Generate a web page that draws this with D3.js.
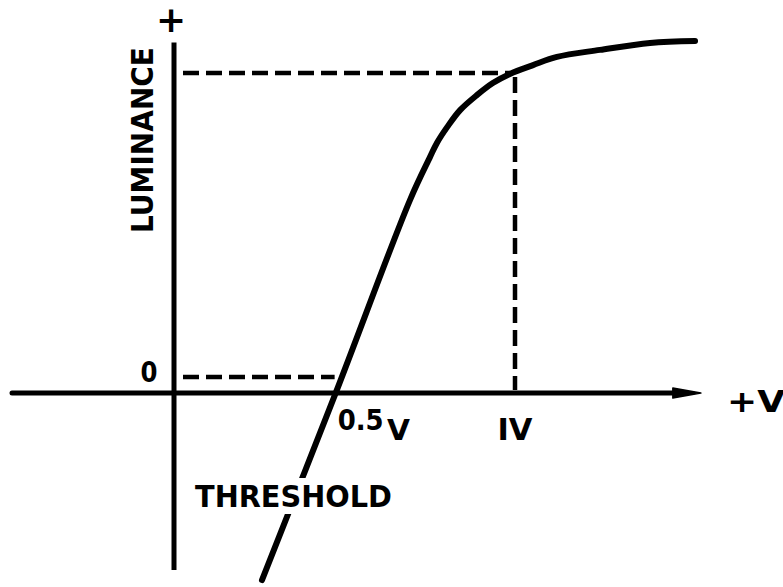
<!DOCTYPE html>
<html><head><meta charset="utf-8">
<script src="https://cdn.jsdelivr.net/npm/d3@7"></script>
<style>body{margin:0;background:#fff}svg{display:block}</style></head>
<body>
<script>
// Data (volts vs. relative luminance; 1.0 = luminance at 1 V)
const curveVolts = [0.258, 0.474, 0.692, 0.751, 0.771, 0.801, 0.839, 0.889, 0.935, 0.985, 1.053, 1.123, 1.249, 1.396, 1.528];
const curveLum   = [-0.668, -0.053, 0.582, 0.724, 0.770, 0.822, 0.878, 0.928, 0.967, 0.997, 1.026, 1.053, 1.076, 1.099, 1.105];
const thresholdVolts = 0.474;
const refVolts = 1.0;
const refLum = 1.0;
const zeroLum = 0.0;
const axisLum = -0.053;
const xAxisExtent = [-0.475, 1.545];
const yAxisExtent = [-0.635, 1.10];
const tickLabels = ["0.5", "V", "IV", "0", "+V", "+", "LUMINANCE", "THRESHOLD"];

const W = 783, H = 587;
const svg = d3.select("body").append("svg").attr("width", W).attr("height", H);
const x = d3.scaleLinear().domain([0, 1]).range([174, 515]);
const y = d3.scaleLinear().domain([0, 1]).range([377, 73]);
const font = "'DejaVu Sans', sans-serif";
const ink = "#000";

// Axes
svg.append("line").attr("x1", x(xAxisExtent[0])).attr("x2", x(xAxisExtent[1]) - 20)
  .attr("y1", y(axisLum)).attr("y2", y(axisLum)).attr("stroke", ink).attr("stroke-width", 5).attr("stroke-linecap", "round");
svg.append("path")
  .attr("d", `M${x(xAxisExtent[1]) - 28},${y(axisLum) - 5} L${x(xAxisExtent[1])},${y(axisLum)} L${x(xAxisExtent[1]) - 28},${y(axisLum) + 5} Z`)
  .attr("fill", ink).attr("stroke", ink).attr("stroke-width", 1.5).attr("stroke-linejoin", "round");
svg.append("line").attr("x1", x(0)).attr("x2", x(0))
  .attr("y1", y(yAxisExtent[1])).attr("y2", y(yAxisExtent[0])).attr("stroke", ink).attr("stroke-width", 5);

// Dashed guide lines
const dash = { "stroke": ink, "stroke-width": 4.5, "stroke-dasharray": "16,7" };
function dashed(x1, y1, x2, y2) {
  const l = svg.append("line").attr("x1", x1).attr("y1", y1).attr("x2", x2).attr("y2", y2);
  for (const k in dash) l.attr(k, dash[k]);
}
dashed(x(0) + 9, y(zeroLum), x(thresholdVolts) - 1, y(zeroLum));
dashed(x(0) + 9, y(refLum), x(refVolts) - 5, y(refLum));
dashed(x(refVolts), y(refLum) + 4, x(refVolts), y(axisLum) - 3);

// Curve
const pts = curveVolts.map((v, i) => [x(v), y(curveLum[i])]);
svg.append("path").attr("d", d3.line().curve(d3.curveCatmullRom.alpha(0.5))(pts))
  .attr("fill", "none").attr("stroke", ink).attr("stroke-width", 6).attr("stroke-linecap", "round");

// Text
function txt(s, px, py, size, opts = {}) {
  const t = svg.append("text").attr("x", px).attr("y", py).text(s)
    .attr("font-family", font).attr("font-weight", "bold").attr("font-size", size).attr("fill", ink)
    .attr("text-anchor", opts.anchor || "start");
  if (opts.len) t.attr("textLength", opts.len).attr("lengthAdjust", "spacingAndGlyphs");
  if (opts.rot) t.attr("transform", `rotate(-90,${px},${py})`);
  return t;
}
// THRESHOLD with white background (breaks the curve)
svg.append("rect").attr("x", 192).attr("y", 478).attr("width", 202).attr("height", 36).attr("fill", "#fff");
txt(tickLabels[7], 195, 507, 31, { len: 197 });
txt(tickLabels[6], 153, 140, 30, { anchor: "middle", len: 186, rot: true });
txt(tickLabels[3], 149, 382, 28, { anchor: "middle", len: 17 });
txt(tickLabels[0], x(thresholdVolts) + 2, 430, 28, { len: 46 });
txt(tickLabels[1], 387, 440, 29, { len: 23 });
txt(tickLabels[2], x(refVolts), 440, 31, { anchor: "middle", len: 35 });
txt(tickLabels[4], 727, 412, 31, { len: 58 });
txt(tickLabels[5], 171, 32, 36, { anchor: "middle" });
</script>
</body></html>
